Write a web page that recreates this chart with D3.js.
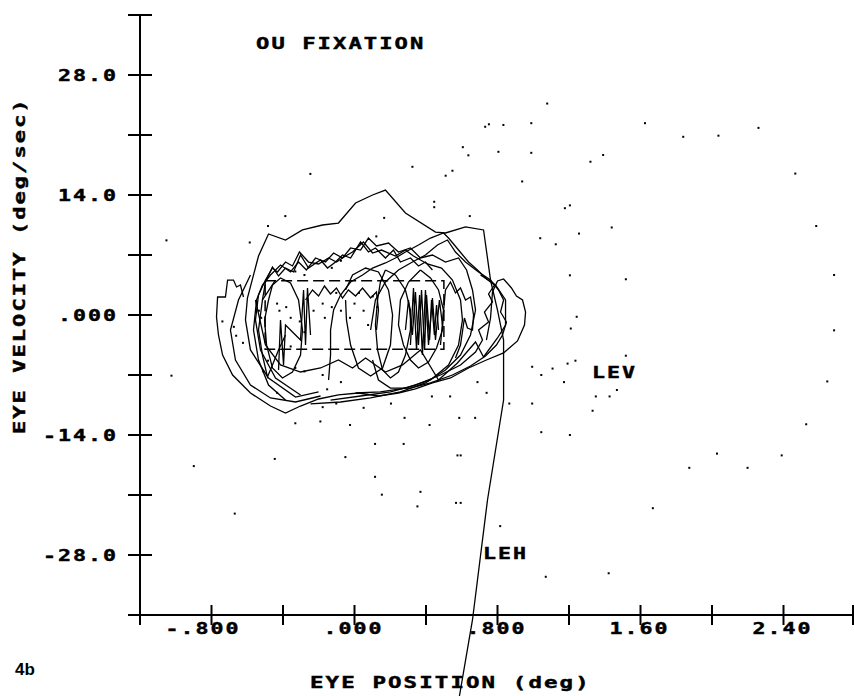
<!DOCTYPE html>
<html>
<head>
<meta charset="utf-8">
<script src="https://cdn.jsdelivr.net/npm/d3@7"></script>
<style>
  html, body { margin: 0; padding: 0; background: #fff; }
  svg { display: block; }
  .mono { font-family: "DejaVu Sans Mono", "Liberation Mono", monospace; font-weight: bold; font-size: 16px; letter-spacing: 1.5px; fill: #000; stroke: #000; stroke-width: 0.45px; }
</style>
</head>
<body>
<svg id="chart" width="854" height="696"></svg>
<script>
// ---------------- axes ----------------
const xDomain = [-1.2, 2.8];
const yDomain = [-35, 35];
const xTickValues = [-0.8, -0.4, 0, 0.4, 0.8, 1.2, 1.6, 2.0, 2.4, 2.8];
const xLabelValues = [-0.8, 0, 0.8, 1.6, 2.4];
const xLabelText = ["-.800", ".000", ".800", "1.60", "2.40"];
const yTickValues = [35, 28, 21, 14, 7, 0, -7, -14, -21, -28];
const yLabelValues = [28, 14, 0, -14, -28];
const yLabelText = ["28.0", "14.0", ".000", "-14.0", "-28.0"];

// ---------------- phase-plane traces [position deg, velocity deg/sec] ----------------
const traceOuter = [[-0.621,2.10],[-0.638,3.50],[-0.660,3.27],[-0.677,4.08],[-0.710,4.08],[-0.722,2.10],[-0.766,2.10],[-0.772,-0.23],[-0.761,-2.33],[-0.738,-4.67],[-0.682,-7.00],[-0.582,-9.10],[-0.470,-10.62],[-0.386,-11.43],[-0.302,-10.62],[-0.201,-9.80],[-0.090,-9.33],[0.022,-9.10],[0.134,-9.45],[0.246,-9.10],[0.341,-8.63],[0.436,-7.93],[0.537,-7.35],[0.638,-6.18],[0.738,-5.25],[0.834,-4.43],[0.912,-3.03],[0.951,-1.17],[0.957,0.35],[0.940,1.75],[0.906,2.22],[0.878,3.15],[0.834,4.20],[0.800,3.97],[0.772,2.68],[0.761,-0.35],[0.738,-2.92]];
const traceHigh = [[-0.201,-8.98],[-0.330,-9.57],[-0.481,-7.35],[-0.582,-4.08],[-0.610,-0.58],[-0.599,1.98],[-0.537,6.88],[-0.481,9.45],[-0.386,8.75],[-0.291,9.92],[-0.179,10.50],[-0.090,10.73],[0.006,13.07],[0.101,14.00],[0.173,14.58],[0.285,11.90],[0.453,9.68],[0.509,9.57],[0.621,10.27],[0.722,9.92],[0.761,4.08],[0.800,0.58],[0.834,-2.92],[0.834,-9.92],[0.744,-21.58],[0.660,-35.58],[0.587,-44.45]];
const traceBandA = [[-0.302,-9.33],[-0.442,-7.35],[-0.526,-4.08],[-0.554,-0.58],[-0.537,2.33],[-0.498,4.08],[-0.459,5.48],[-0.431,5.02],[-0.386,6.18],[-0.347,5.72],[-0.308,7.35],[-0.257,6.18],[-0.201,5.95],[-0.145,6.65],[-0.101,6.18],[-0.050,6.88],[-0.011,7.35],[0.050,8.52],[0.101,7.23],[0.151,7.58],[0.229,6.88],[0.285,7.58],[0.330,6.88],[0.408,5.95],[0.487,5.48],[0.548,4.08],[0.593,1.75],[0.604,-0.58],[0.582,-3.50],[0.526,-5.83],[0.425,-7.58],[0.285,-8.52],[0.145,-8.98],[0.006,-9.10]];
const traceBandB = [[-0.386,-9.92],[-0.481,-8.17],[-0.537,-5.25],[-0.565,-1.75],[-0.548,1.75],[-0.515,3.50],[-0.470,4.67],[-0.414,5.83],[-0.358,5.02],[-0.313,6.18],[-0.269,5.25],[-0.218,6.65],[-0.162,6.18],[-0.117,7.23],[-0.067,6.65],[-0.022,7.82],[0.034,7.58],[0.078,8.98],[0.123,8.05],[0.190,8.40],[0.246,7.35],[0.313,7.82],[0.369,6.65],[0.436,7.00],[0.509,6.18],[0.582,6.65],[0.627,5.25],[0.660,2.92],[0.677,0.58],[0.649,-2.33],[0.593,-4.67],[0.509,-6.42],[0.397,-7.93],[0.257,-8.98],[0.090,-9.68],[-0.078,-10.15],[-0.246,-10.38]];
const traceRightA = [[-0.134,-9.92],[0.034,-9.45],[0.201,-8.98],[0.341,-8.17],[0.481,-7.00],[0.593,-5.83],[0.677,-4.32],[0.716,-2.92],[0.694,-1.75],[0.750,-0.82],[0.727,0.35],[0.772,1.52],[0.750,2.45],[0.783,3.50],[0.733,4.32],[0.688,5.25],[0.638,6.18],[0.582,7.58],[0.526,8.98],[0.498,9.57],[0.425,8.98],[0.358,8.17],[0.285,7.35],[0.229,6.65],[0.173,6.07],[0.101,5.48],[0.045,4.67],[-0.022,3.85],[-0.078,2.33],[-0.117,0.58],[-0.134,-1.75],[-0.134,-4.67],[-0.145,-7.58]];
const traceRightB = [[0.090,-1.75],[0.117,1.75],[0.173,3.85],[0.246,5.25],[0.324,6.18],[0.397,7.00],[0.464,8.17],[0.520,8.75],[0.565,7.35],[0.621,6.18],[0.694,5.02],[0.761,4.08],[0.806,2.92],[0.834,1.75],[0.817,0.35],[0.850,-0.82],[0.828,-2.33],[0.794,-3.50],[0.733,-4.78],[0.649,-5.95],[0.548,-7.00],[0.425,-7.93],[0.313,-8.52],[0.201,-8.52],[0.134,-7.58],[0.101,-5.25]];
const traceLeftNarrow = [[-0.481,1.75],[-0.459,3.50],[-0.414,4.32],[-0.358,3.73],[-0.313,1.75],[-0.291,-1.75],[-0.302,-4.67],[-0.347,-6.65],[-0.403,-7.35],[-0.459,-6.18],[-0.492,-3.50],[-0.503,-0.58],[-0.481,1.75]];
const traceLeftV = [[-0.442,4.08],[-0.515,1.75],[-0.537,-1.75],[-0.515,-4.67],[-0.487,-7.23],[-0.459,-5.83],[-0.425,-4.08],[-0.386,-2.33]];
const traceCenter = [[-0.050,2.92],[-0.011,4.67],[0.062,5.48],[0.134,5.02],[0.190,2.92],[0.213,0.00],[0.201,-3.50],[0.157,-6.18],[0.090,-7.12],[0.022,-6.18],[-0.022,-3.50],[-0.045,-0.58],[-0.050,1.75]];
const traceRightNarrow = [[0.369,5.25],[0.425,4.32],[0.470,2.92],[0.498,0.58],[0.492,-1.75],[0.459,-3.85],[0.414,-5.48],[0.358,-6.18],[0.313,-5.25],[0.274,-3.50],[0.246,-1.17],[0.257,1.75],[0.302,3.85],[0.369,5.25]];
const traceMid = [[0.173,5.25],[0.229,4.67],[0.285,2.92],[0.313,0.58],[0.313,-1.75],[0.285,-4.67],[0.246,-6.65],[0.201,-7.35],[0.157,-6.42],[0.129,-4.08],[0.117,-1.17],[0.129,1.75],[0.145,3.85],[0.173,5.25]];
const traceLowBand = [[-0.554,1.75],[-0.498,-3.50],[-0.414,-5.83],[-0.302,-6.65],[-0.190,-6.18],[-0.090,-5.25],[-0.011,-6.18],[0.062,-5.02],[0.173,-6.65],[0.269,-5.83],[0.369,-4.08],[0.470,-7.58],[0.576,-5.60],[0.677,-3.15],[0.722,-4.90],[0.800,-2.68],[0.845,-1.17],[0.845,1.75],[0.789,3.50],[0.705,4.67]];
const traceLeftArc = [[-0.582,4.67],[-0.649,1.75],[-0.694,-1.75],[-0.666,-5.25],[-0.582,-8.17],[-0.470,-9.68],[-0.330,-10.15],[-0.190,-9.45]];
const traceTopZig = [[-0.515,1.75],[-0.498,3.85],[-0.459,5.60],[-0.425,4.55],[-0.386,5.48],[-0.341,5.02],[-0.302,7.00],[-0.257,5.48],[-0.224,5.95],[-0.190,6.42],[-0.151,5.48],[-0.106,6.18],[-0.067,7.00],[-0.022,6.65],[0.034,8.52],[0.078,7.35],[0.117,7.82],[0.173,6.65],[0.218,7.58],[0.257,6.18],[0.313,6.65],[0.358,5.72],[0.397,6.18],[0.436,5.25]];
const traceBoxZig = [[-0.274,1.75],[-0.235,2.92],[-0.201,2.22],[-0.168,3.38],[-0.134,2.45],[-0.101,3.15],[-0.067,1.98],[-0.034,2.92],[0.006,2.22],[0.045,3.15],[0.090,1.98],[0.123,2.68],[0.134,0.58],[0.123,-1.75]];
const traceRightZig = [[0.481,-3.50],[0.509,2.92],[0.537,3.85],[0.565,2.57],[0.593,3.15],[0.621,1.75],[0.649,2.10],[0.666,0.00],[0.660,-1.75],[0.632,-1.52],[0.615,-0.35],[0.593,-3.50],[0.565,-5.02]];
const beatsLeft = [[-0.425,-6.42],[-0.414,-0.58],[-0.397,-5.83],[-0.386,-1.17],[-0.302,-2.92],[-0.285,2.92],[-0.274,-3.50],[-0.263,3.15],[-0.246,-2.33]];
const beatsRight = [[0.285,-1.75],[0.302,1.75],[0.324,-2.33],[0.341,2.68],[0.358,-3.50],[0.375,2.92],[0.392,-4.08],[0.403,2.33],[0.420,-2.92],[0.431,1.75],[0.447,-2.33],[0.459,1.17],[0.470,-1.75]];
const beatsRight2 = [[0.313,-3.50],[0.330,3.15],[0.347,-4.08],[0.364,2.33],[0.380,-4.67],[0.397,2.92],[0.414,-3.50],[0.436,1.98],[0.453,-2.92],[0.475,1.75],[0.492,-1.17]];

// fixation window
const windowX = [-0.5, 0.5];
const windowY = [-4, 4];

// isolated samples
const samples = [[1.078,24.67],[0.752,22.25],[0.731,21.96],[0.833,22.17],[0.989,22.38],[1.625,22.38],[2.260,21.83],[1.839,20.79],[2.036,20.92],[0.606,19.58],[0.637,18.63],[0.805,19.04],[0.989,18.92],[1.320,17.88],[1.391,18.67],[0.324,17.29],[0.548,16.83],[0.510,16.25],[-0.247,16.46],[0.938,15.58],[2.466,16.50],[0.446,13.21],[0.446,12.58],[1.205,12.79],[1.177,12.46],[-0.387,11.54],[0.166,11.33],[0.645,11.54],[1.439,10.21],[1.256,9.50],[1.039,8.96],[1.126,8.25],[2.583,10.38],[-0.484,10.38],[-1.052,8.71],[0.122,9.17],[-0.586,8.46],[1.205,4.63],[1.518,4.17],[2.683,4.67],[1.243,-0.21],[1.210,-1.58],[2.683,-1.79],[1.518,-4.75],[1.236,-5.33],[1.192,-5.67],[2.645,-7.75],[-1.024,-7.08],[0.994,-6.04],[1.045,-7.00],[1.108,-6.25],[1.172,-7.83],[1.350,-9.50],[1.427,-9.50],[1.468,-8.75],[1.332,-11.17],[0.994,-10.33],[0.866,-10.33],[0.688,-7.83],[0.739,-9.08],[0.535,-9.50],[0.433,-9.50],[0.204,-10.33],[0.051,-10.83],[-0.102,-10.33],[-0.178,-10.75],[-0.331,-12.63],[-0.191,-12.42],[-0.025,-12.83],[0.280,-12.00],[0.420,-12.83],[0.586,-12.00],[0.675,-12.00],[1.045,-13.67],[1.205,-14.00],[2.527,-12.75],[0.115,-15.04],[0.275,-15.04],[0.576,-16.38],[0.594,-16.38],[-0.051,-16.58],[-0.446,-16.79],[-0.899,-17.63],[0.115,-18.88],[1.873,-17.83],[2.028,-16.17],[2.199,-17.83],[2.390,-16.38],[0.153,-20.96],[0.369,-20.63],[0.352,-22.33],[0.568,-21.92],[0.594,-21.92],[1.669,-22.54],[-0.670,-23.17],[0.815,-24.63],[1.070,-30.54],[1.422,-30.13]];
const samplesInner = [[-0.739,-0.75],[-0.675,-1.38],[-0.662,-2.42],[-0.624,-3.25],[-0.535,0.50],[-0.522,-0.33],[-0.433,1.33],[-0.420,0.50],[-0.382,0.92],[-0.357,-0.33],[-0.306,-0.75],[-0.280,-2.00],[-0.229,0.50],[-0.178,1.33],[-0.166,-0.33],[-0.127,0.92],[-0.102,2.58],[-0.076,0.50],[-0.025,-0.33],[0.000,1.33],[0.025,2.58],[0.051,0.50],[0.076,-1.17],[0.102,2.17],[0.127,0.92],[-0.357,-3.67],[-0.331,-6.17],[-0.280,-6.58],[-0.178,-7.00],[-0.076,-7.83],[-0.153,-8.67],[-0.484,-5.33],[-0.510,-6.58],[-0.433,-9.08],[-0.076,6.33],[-0.127,5.50],[-0.280,4.67],[-0.331,5.08]];

const traces = [traceOuter, traceHigh, traceBandA, traceBandB, traceRightA, traceRightB,
                traceLeftNarrow, traceLeftV, traceCenter, traceRightNarrow, traceMid,
                traceLowBand, traceLeftArc, traceTopZig, traceBoxZig, traceRightZig,
                beatsLeft, beatsRight, beatsRight2];

// ---------------- drawing ----------------
const svg = d3.select("#chart");
const x = d3.scaleLinear().domain(xDomain).range([140, 855]);
const y = d3.scaleLinear().domain(yDomain).range([615, 15]);

const line = d3.line().x(d => x(d[0])).y(d => y(d[1]));

// terminal-style label: fixed character pitch, glyphs stretched to fill it
function monoText(parent, str, x0, y0, pitch) {
  return parent.append("text").attr("class", "mono")
    .attr("x", x0).attr("y", y0)
    .attr("textLength", str.length * pitch)
    .attr("lengthAdjust", "spacingAndGlyphs")
    .text(str);
}

// traces
svg.append("g").selectAll("path").data(traces).join("path")
  .attr("d", line).attr("fill", "none").attr("stroke", "#000")
  .attr("stroke-width", 1.3).attr("stroke-linejoin", "miter");

// fixation window (dashed)
svg.append("rect")
  .attr("x", x(windowX[0])).attr("y", y(windowY[1]))
  .attr("width", x(windowX[1]) - x(windowX[0]))
  .attr("height", y(windowY[0]) - y(windowY[1]))
  .attr("fill", "none").attr("stroke", "#000").attr("stroke-width", 1.5)
  .attr("stroke-dasharray", "11,5");

// samples
svg.append("g").selectAll("rect").data(samples.concat(samplesInner)).join("rect")
  .attr("x", d => x(d[0]) - 1).attr("y", d => y(d[1]) - 1)
  .attr("width", 2).attr("height", 2).attr("fill", "#000");

const PITCH = 15;

// y axis
const yAxis = svg.append("g").attr("transform", `translate(${x(xDomain[0])},0)`);
yAxis.append("line").attr("x1", 0).attr("x2", 0).attr("y1", y(yDomain[1]) - 1).attr("y2", y(yDomain[0]) + 10)
  .attr("stroke", "#000").attr("stroke-width", 2);
yAxis.selectAll("line.tick").data(yTickValues).join("line").attr("class", "tick")
  .attr("x1", -12).attr("x2", 12).attr("y1", d => y(d)).attr("y2", d => y(d))
  .attr("stroke", "#000").attr("stroke-width", 2);
yLabelValues.forEach((v, i) => {
  const s = yLabelText[i];
  monoText(svg, s, 115 - s.length * PITCH + 3, y(v) + 6, PITCH);
});

// x axis
const xAxis = svg.append("g").attr("transform", `translate(0,${y(yDomain[0])})`);
xAxis.append("line").attr("x1", x(xDomain[0]) - 12).attr("x2", 854).attr("y1", 0).attr("y2", 0)
  .attr("stroke", "#000").attr("stroke-width", 2);
xAxis.selectAll("line.tick").data(xTickValues).join("line").attr("class", "tick")
  .attr("x1", d => Math.min(x(d), 853)).attr("x2", d => Math.min(x(d), 853)).attr("y1", -10).attr("y2", 10)
  .attr("stroke", "#000").attr("stroke-width", 2);
xLabelValues.forEach((v, i) => {
  const s = xLabelText[i];
  monoText(svg, s, x(v) + 26 - s.length * PITCH + 3, y(yDomain[0]) + 19, PITCH);
});

// titles and annotations
monoText(svg, "OU FIXATION", 256, 49, 15.4);
monoText(svg, "LEV", 592, 378, 15);
monoText(svg, "LEH", 483, 559, 15);
monoText(svg, "EYE POSITION (deg)", 310, 688, 15.6);
monoText(svg.append("g").attr("transform", "translate(25,434) rotate(-90)"),
  "EYE VELOCITY (deg/sec)", 0, 0, 15.3);
svg.append("text").attr("x", 15).attr("y", 675)
  .style("font-family", "Liberation Sans, Arial, sans-serif").style("font-weight", "bold")
  .style("font-size", "17px").text("4b");
</script>
</body>
</html>
